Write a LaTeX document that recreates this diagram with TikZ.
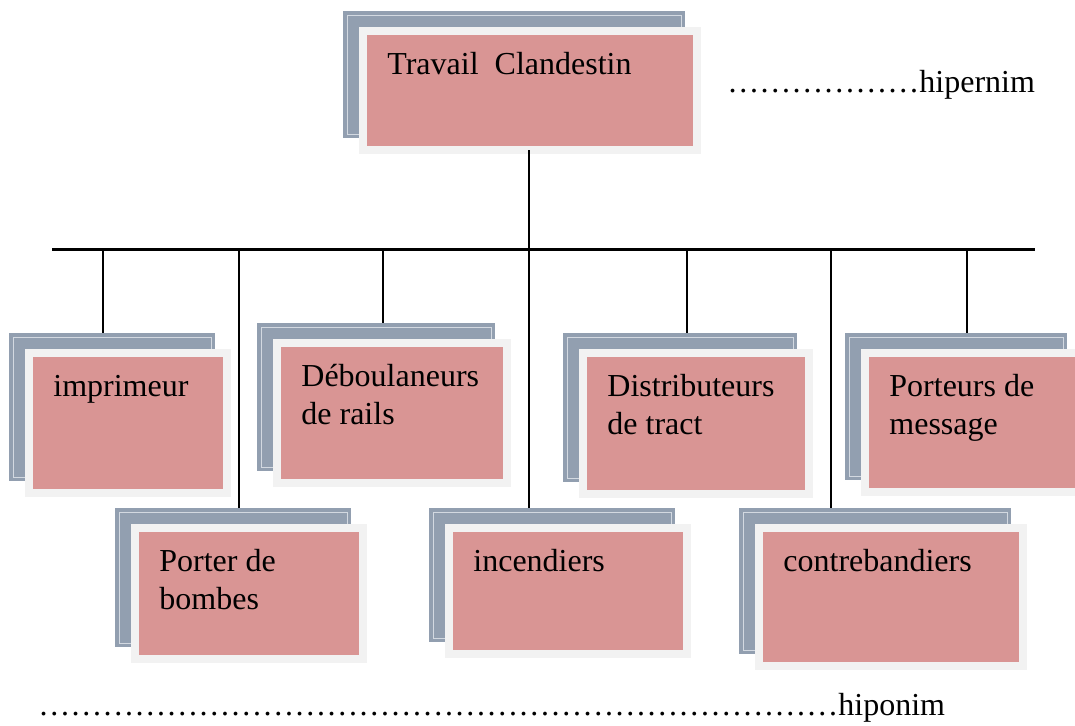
\documentclass[tikz,border=0pt]{standalone}
\usepackage{fontspec}
\setmainfont{Liberation Serif}
\definecolor{rosa}{HTML}{D99594}
\definecolor{schiefer}{HTML}{929FB0}
\definecolor{rahmen}{HTML}{F2F2F2}
\definecolor{fuge}{HTML}{D3D9E1}
\newcommand{\punkte}[1]{\foreach \n in {1,...,#1}{…}}
\tikzset{
  hinten/.style={anchor=north west,fill=schiefer,inner sep=0pt,outer sep=0pt,
    path picture={\draw[fuge,line width=0.3pt]
      ([shift={(2pt,-2pt)}]path picture bounding box.north west) rectangle
      ([shift={(-2pt,2pt)}]path picture bounding box.south east);}},
  kasten/.style={anchor=north west,fill=rosa,draw=rahmen,line width=4pt,inner sep=0pt,outer sep=0pt},
  wort/.style={anchor=base west,inner sep=0pt,align=left,font=\fontsize{16}{19}\selectfont},
  ast/.style={black,line width=1pt},
  balken/.style={black,line width=1.5pt},
}
\begin{document}
\begin{tikzpicture}[x=0.5pt,y=-0.5pt]
  \useasboundingbox (0,0) rectangle (1075,725);
  % oberbegriff
  \node[hinten,minimum width=171pt,minimum height=63.5pt] (travailh) at (343,11) {};
  \node[kasten,minimum width=167pt,minimum height=59.5pt] (travail) at ([shift={(20,20)}]travailh.north west) {};
  \node[wort] (travailt) at ([shift={(24,43)}]travail.north west) {Travail\ \ Clandestin};
  \node[wort] (hyper) at (727,92) {\punkte{6}hipernim};
  % obere reihe (base = letzte zeile, daher 43+38)
  \node[hinten,minimum width=103pt,minimum height=74pt] (imprh) at (9,333) {};
  \node[kasten,minimum width=99pt,minimum height=70pt] (impr) at ([shift={(20,20)}]imprh.north west) {};
  \node[wort] (imprt) at ([shift={(24,43)}]impr.north west) {imprimeur};
  \node[hinten,minimum width=119pt,minimum height=74pt] (deblh) at (257,323) {};
  \node[kasten,minimum width=115pt,minimum height=70pt] (debl) at ([shift={(20,20)}]deblh.north west) {};
  \node[wort] (deblt) at ([shift={(24,81)}]debl.north west) {Déboulaneurs\\de rails};
  \node[hinten,minimum width=117pt,minimum height=74.5pt] (distrh) at (563,333) {};
  \node[kasten,minimum width=113pt,minimum height=70.5pt] (distr) at ([shift={(20,20)}]distrh.north west) {};
  \node[wort] (distrt) at ([shift={(24,81)}]distr.north west) {Distributeurs\\de tract};
  \node[hinten,minimum width=111pt,minimum height=73.5pt] (porth) at (845,333) {};
  \node[kasten,minimum width=107pt,minimum height=69.5pt] (port) at ([shift={(20,20)}]porth.north west) {};
  \node[wort] (portt) at ([shift={(24,81)}]port.north west) {Porteurs de\\message};
  % untere reihe
  \node[hinten,minimum width=118pt,minimum height=69.5pt] (bombh) at (115,508) {};
  \node[kasten,minimum width=114pt,minimum height=65.5pt] (bomb) at ([shift={(20,20)}]bombh.north west) {};
  \node[wort] (bombt) at ([shift={(24,81)}]bomb.north west) {Porter de\\bombes};
  \node[hinten,minimum width=123pt,minimum height=67pt] (inch) at (429,508) {};
  \node[kasten,minimum width=119pt,minimum height=63pt] (inc) at ([shift={(20,20)}]inch.north west) {};
  \node[wort] (inct) at ([shift={(24,43)}]inc.north west) {incendiers};
  \node[hinten,minimum width=136pt,minimum height=73pt] (contreh) at (739,508) {};
  \node[kasten,minimum width=132pt,minimum height=69pt] (contre) at ([shift={(20,20)}]contreh.north west) {};
  \node[wort] (contret) at ([shift={(24,43)}]contre.north west) {contrebandiers};
  \node[wort] (hypo) at (38,715) {\punkte{25}hiponim};
  % verbindungen
  \coordinate (bl) at (52,249);
  \coordinate (br) at (1035,249);
  \coordinate (b1) at (103,249);
  \coordinate (b2) at (239,249);
  \coordinate (b3) at (383,249);
  \coordinate (b4) at (529,249);
  \coordinate (b5) at (687,249);
  \coordinate (b6) at (831,249);
  \coordinate (b7) at (967,249);
  \draw[balken] (bl) -- (br);
  \draw[ast] (travail.south -| b4) -- (b4 |- inch.north);
  \draw[ast] (b1) -- (b1 |- imprh.north);
  \draw[ast] (b2) -- (b2 |- bombh.north);
  \draw[ast] (b3) -- (b3 |- deblh.north);
  \draw[ast] (b5) -- (b5 |- distrh.north);
  \draw[ast] (b6) -- (b6 |- contreh.north);
  \draw[ast] (b7) -- (b7 |- porth.north);
\end{tikzpicture}
\end{document}
